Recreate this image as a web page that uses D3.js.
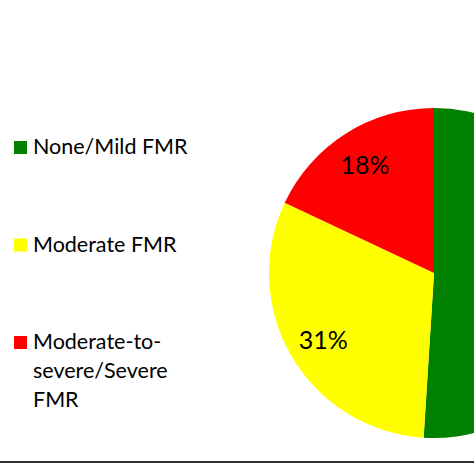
<!DOCTYPE html>
<html>
<head>
<meta charset="utf-8">
<script src="https://cdn.jsdelivr.net/npm/d3@7"></script>
<style>
  body { margin: 0; background: #fff; }
  svg { display: block; font-family: Lato, "Open Sans", sans-serif; }
</style>
</head>
<body>
<div id="chart"></div>
<script>
// data
const categories = ["None/Mild FMR", "Moderate FMR", "Moderate-to-severe/Severe FMR"];
const shares = [51, 31, 18];
const colors = ["#008000", "#ffff00", "#ff0000"];
// legend labels as they wrap in the original
const legendLines = [["None/Mild FMR"], ["Moderate FMR"], ["Moderate-to-", "severe/Severe", "FMR"]];

const width = 474, height = 474;
const cx = 434, cy = 273, radius = 165;

const svg = d3.select("#chart")
  .append("svg")
  .attr("width", width)
  .attr("height", height);

const pieData = d3.pie()
  .sort(null)
  .value(d => d)(shares);

const arc = d3.arc().innerRadius(0).outerRadius(radius);
const labelArc = d3.arc().innerRadius(radius * 0.78).outerRadius(radius * 0.78);

const g = svg.append("g")
  .attr("transform", `translate(${cx},${cy})`);

// slices
g.selectAll("path")
  .data(pieData)
  .join("path")
  .attr("d", arc)
  .attr("fill", (d, i) => colors[i]);

// percent labels (the green one falls outside the cropped picture)
g.selectAll("text")
  .data(pieData.filter(d => cx + labelArc.centroid(d)[0] < width - 20))
  .join("text")
  .attr("transform", d => `translate(${labelArc.centroid(d)})`)
  .attr("text-anchor", "middle")
  .attr("dominant-baseline", "central")
  .style("font-size", "25px")
  .style("fill", "#000")
  .text(d => d.data + "%");

// legend
const legendY = d3.scalePoint()
  .domain(categories)
  .range([147, 342]);

const legend = svg.append("g")
  .selectAll("g")
  .data(categories)
  .join("g")
  .attr("transform", d => `translate(14,${legendY(d)})`);

legend.append("rect")
  .attr("x", 0)
  .attr("y", -6)
  .attr("width", 13)
  .attr("height", 13)
  .attr("fill", (d, i) => colors[i]);

legend.append("text")
  .attr("x", 19)
  .attr("y", 7)
  .style("font-size", "21.5px")
  .style("fill", "#000")
  .selectAll("tspan")
  .data((d, i) => legendLines[i])
  .join("tspan")
  .attr("x", 19)
  .attr("dy", (d, i) => i === 0 ? 0 : 29)
  .text(d => d);

// bottom rule
svg.append("line")
  .attr("x1", 0)
  .attr("x2", width)
  .attr("y1", 462)
  .attr("y2", 462)
  .attr("stroke", "#333")
  .attr("stroke-width", 2);
</script>
</body>
</html>
